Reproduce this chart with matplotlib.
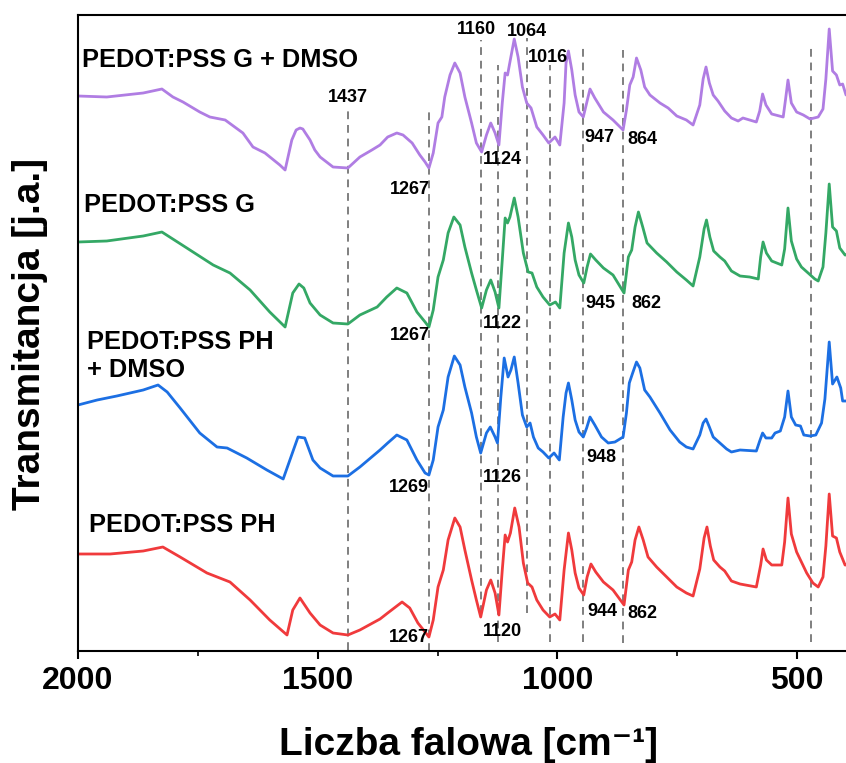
import numpy as np
import matplotlib
matplotlib.use("Agg")
import matplotlib.pyplot as plt
from matplotlib.ticker import MultipleLocator

plt.rcParams['font.family'] = ['Liberation Sans', 'DejaVu Sans']
plt.rcParams['font.weight'] = 'bold'

#%% dane (transmitancja w j.a. z przesunieciem)
wn_g_dmso = [2000, 1940, 1864, 1825, 1802, 1781, 1746, 1725, 1693, 1656, 1635, 1610, 1579, 1568, 1554,
             1545, 1537, 1531, 1527, 1516, 1506, 1495, 1468, 1437, 1412, 1387, 1370, 1354, 1335, 1322,
             1303, 1287, 1276, 1268, 1259, 1249, 1241, 1235, 1224, 1214, 1203, 1193, 1179, 1169, 1158,
             1148, 1139, 1130, 1122, 1115, 1109, 1104, 1099, 1090, 1082, 1073, 1064, 1055, 1043, 1030,
             1018, 1005, 995, 986, 982, 977, 970, 963, 955, 946, 939, 932, 922, 904, 884, 863, 856,
             849, 842, 835, 826, 818, 807, 786, 769, 751, 731, 717, 703, 696, 690, 683, 675, 665, 651,
             637, 623, 613, 585, 578, 572, 565, 553, 529, 524, 519, 512, 501, 487, 473, 456, 446, 440,
             433, 426, 418, 411, 405, 398]
t_g_dmso = [555, 554, 558, 562, 554, 549, 539, 534, 531, 518, 504, 498, 486, 481, 511,
            521, 523, 522, 519, 511, 501, 494, 484, 483, 494, 501, 506, 514, 518, 516,
            508, 496, 489, 483, 498, 528, 534, 554, 576, 588, 578, 554, 528, 508, 499,
            516, 528, 518, 506, 548, 578, 576, 589, 612, 594, 564, 548, 543, 524, 516,
            508, 514, 506, 548, 588, 600, 581, 556, 539, 534, 548, 562, 553, 539, 531, 521, 541,
            566, 574, 593, 581, 564, 556, 548, 543, 535, 531, 526, 546, 572, 584, 568, 556, 550, 540,
            533, 530, 533, 529, 540, 557, 546, 537, 534, 552, 571, 548, 539, 536, 532, 534, 542, 572,
            622, 580, 576, 566, 567, 556]

wn_g = [2000, 1940, 1864, 1825, 1773, 1718, 1683, 1641, 1600, 1568, 1552, 1539, 1529, 1516, 1495,
        1468, 1437, 1412, 1376, 1356, 1335, 1314, 1293, 1276, 1268, 1259, 1249, 1238, 1228, 1216,
        1203, 1193, 1179, 1169, 1158, 1148, 1139, 1130, 1122, 1115, 1109, 1104, 1099, 1090, 1082,
        1071, 1061, 1053, 1043, 1030, 1016, 1004, 995, 986, 977, 970, 963, 955, 945, 938, 931, 920,
        904, 884, 861, 852, 845, 838, 831, 822, 813, 793, 772, 751, 731, 717, 703, 694, 689, 682,
        674, 661, 651, 637, 619, 599, 581, 576, 571, 564, 553, 532, 526, 519, 512, 501, 491, 477,
        463, 456, 446, 440, 433, 426, 418, 411, 400, 398]
t_g = [409, 410, 415, 419, 403, 386, 378, 361, 339, 324, 358, 367, 363, 348, 336,
       328, 327, 336, 344, 354, 363, 358, 339, 329, 324, 341, 374, 391, 418, 434,
       426, 404, 378, 361, 343, 361, 371, 359, 343, 391, 433, 428, 434, 453, 434,
       398, 379, 378, 364, 354, 346, 349, 343, 398, 428, 414, 391, 376, 368, 384, 397, 391,
       383, 376, 358, 394, 401, 424, 439, 424, 408, 398, 389, 379, 371, 365, 394, 422, 431, 414,
       400, 394, 390, 380, 375, 374, 372, 394, 409, 398, 390, 386, 402, 443, 410, 392, 384, 378,
       372, 370, 384, 418, 467, 424, 420, 403, 396, 396]

wn_ph_dmso = [2000, 1960, 1919, 1864, 1833, 1814, 1787, 1746, 1710, 1689, 1648, 1606, 1572, 1558, 1541,
              1527, 1510, 1495, 1468, 1437, 1412, 1370, 1354, 1335, 1314, 1293, 1276, 1268, 1259, 1249,
              1238, 1228, 1215, 1203, 1193, 1179, 1169, 1160, 1148, 1140, 1130, 1125, 1118, 1111, 1103,
              1097, 1090, 1082, 1073, 1064, 1057, 1050, 1040, 1030, 1018, 1007, 996, 988, 982, 977,
              970, 963, 955, 946, 939, 932, 922, 908, 894, 880, 863, 856, 850, 843, 835, 828, 818, 807,
              786, 765, 745, 731, 717, 703, 696, 690, 683, 675, 661, 647, 637, 619, 585, 578, 572, 565,
              553, 546, 535, 526, 519, 512, 503, 493, 486, 473, 461, 449, 442, 433, 426, 417, 409, 405,
              398]
t_ph_dmso = [246, 251, 255, 261, 266, 259, 243, 218, 204, 203, 193, 181, 172, 191, 214,
             213, 191, 183, 175, 175, 184, 201, 208, 216, 211, 191, 178, 176, 191, 224,
             241, 274, 295, 286, 264, 238, 214, 198, 218, 224, 214, 208, 254, 293, 274,
             281, 294, 268, 236, 224, 228, 214, 203, 199, 193, 198, 191, 234, 258, 268,
             251, 231, 219, 214, 223, 234, 226, 214, 208, 209, 214, 238, 268, 278, 289, 283, 261, 254,
             238, 221, 209, 204, 202, 216, 228, 232, 224, 214, 208, 202, 199, 201, 200, 210, 218, 213,
             213, 218, 220, 234, 260, 234, 226, 225, 216, 215, 216, 228, 252, 309, 267, 274, 263, 250,
             250]

wn_ph = [2000, 1933, 1864, 1823, 1787, 1731, 1683, 1641, 1600, 1564, 1552, 1537, 1516, 1495, 1468,
         1437, 1412, 1370, 1354, 1324, 1308, 1291, 1276, 1268, 1259, 1249, 1238, 1228, 1214, 1203,
         1193, 1179, 1169, 1160, 1148, 1139, 1130, 1122, 1115, 1109, 1104, 1098, 1089, 1080, 1071,
         1062, 1053, 1043, 1030, 1016, 1005, 995, 986, 977, 970, 963, 955, 945, 938, 930, 920, 904,
         884, 861, 852, 845, 838, 830, 821, 811, 793, 772, 751, 731, 717, 703, 694, 688, 681, 674,
         661, 651, 637, 619, 585, 576, 571, 564, 553, 532, 526, 519, 512, 501, 491, 480, 467, 456,
         446, 440, 433, 426, 418, 411, 400, 398]
t_ph = [97, 97, 100, 104, 94, 78, 69, 51, 31, 16, 41, 53, 38, 26, 18,
        16, 21, 32, 38, 49, 43, 28, 19, 14, 31, 64, 81, 111, 133, 124,
        101, 71, 51, 34, 61, 71, 58, 36, 81, 116, 109, 118, 143, 124, 88,
        68, 64, 51, 41, 34, 37, 31, 81, 118, 101, 78, 63, 56, 74, 87, 79, 69,
        61, 46, 81, 89, 111, 124, 111, 94, 84, 74, 64, 58, 55, 82, 113, 124, 105, 91,
        84, 80, 70, 67, 64, 86, 102, 91, 86, 86, 109, 153, 117, 99, 89, 78, 68, 64,
        74, 105, 157, 115, 113, 99, 86, 86]

spectra = [(wn_g_dmso, t_g_dmso, '#B07DE3'),
           (wn_g, t_g, '#34A865'),
           (wn_ph_dmso, t_ph_dmso, '#1C6FE3'),
           (wn_ph, t_ph, '#F03A3C')]

# linie przerywane: polozenie pasm i zakres w pionie
band_wn = [1437, 1267, 1160, 1124, 1064, 1016, 947, 864, 472]
band_lo = [1, 0, 38, 9, 38, 9, 9, 8, 9]
band_hi = [541, 543, 611, 586, 613, 586, 604, 601, 605]

#%% wykres
fig = plt.figure(figsize=(8.46, 7.63), dpi=100)
ax = fig.add_axes([78 / 846, 112 / 763, 768 / 846, 636 / 763])

ax.vlines(band_wn, band_lo, band_hi, colors='#7f7f7f', linestyles=(0, (4, 3)), linewidth=1.4)

for wn, t, c in spectra:
    ax.plot(wn, t, color=c, linewidth=2.0, solid_joinstyle='round', solid_capstyle='round')

ax.set_xlim(2000, 398)
ax.set_ylim(0, 636)

# podpisy probek
ax.text(1992, 591, "PEDOT:PSS G + DMSO", fontsize=18.3, fontweight='bold', va='center', ha='left')
ax.text(1987, 446, "PEDOT:PSS G", fontsize=18.3, fontweight='bold', va='center', ha='left')
ax.text(1981, 295, "PEDOT:PSS PH\n+ DMSO", fontsize=18.3, fontweight='bold', va='center', ha='left',
        linespacing=1.25)
ax.text(1977, 126, "PEDOT:PSS PH", fontsize=18.3, fontweight='bold', va='center', ha='left')

# podpisy pasm
peak_labels = [("1437", 1437, 553), ("1267", 1308, 461), ("1160", 1168, 622), ("1064", 1064, 620),
               ("1016", 1020, 594), ("1124", 1114, 492), ("947", 913, 514), ("864", 822, 511),
               ("1267", 1308, 316), ("1122", 1114, 327), ("945", 911, 348), ("862", 815, 348),
               ("1269", 1310, 163), ("1126", 1114, 174), ("948", 909, 193),
               ("1267", 1310, 13), ("1120", 1114, 20), ("944", 907, 39), ("862", 822, 37)]
for s, x, y in peak_labels:
    ax.text(x, y, s, fontsize=13, fontweight='bold', ha='center', va='center')

ax.xaxis.set_major_locator(MultipleLocator(500))
ax.xaxis.set_minor_locator(MultipleLocator(250))
ax.tick_params(axis='x', which='major', direction='out', length=6, width=1.5,
               labelsize=23, pad=5)
ax.tick_params(axis='x', which='minor', direction='out', length=3.5, width=1.2)
for lab in ax.get_xticklabels():
    lab.set_fontweight('bold')
ax.set_yticks([])
ax.spines['right'].set_visible(False)
for sp in ['left', 'bottom', 'top']:
    ax.spines[sp].set_linewidth(1.5)

fig.text(468 / 846, 1 - 755 / 763, "Liczba falowa [cm\u207b\u00b9]", fontsize=28, fontweight='bold',
         ha='center', va='baseline')
fig.text(30 / 846, 1 - 334 / 763, "Transmitancja [j.a.]", fontsize=28, fontweight='bold',
         ha='center', va='center', rotation=90)

plt.savefig("out.png", dpi=100)
